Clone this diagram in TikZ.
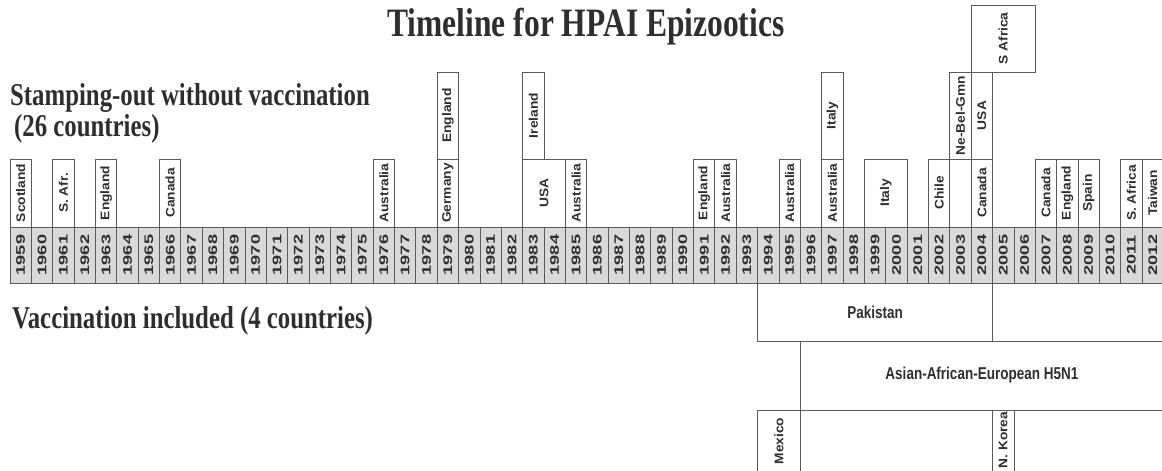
\documentclass[tikz,border=0pt]{standalone}
\usepackage{fontspec}
\setmainfont{Liberation Serif}
\setsansfont{Liberation Sans}
\definecolor{ink}{HTML}{2E2E2E}
\definecolor{rule}{HTML}{5A5A5A}
\definecolor{cellfill}{HTML}{D9D9D9}
\newcommand\cbox[6]{%
  \pgfmathsetmacro\bxa{10+21.36*(#2-1959)}%
  \pgfmathsetmacro\bxw{21.36*(#3-#2+1)}%
  \pgfmathsetmacro\bxh{#5-#4}%
  \node[box, minimum width=\bxw pt, minimum height=\bxh pt, anchor=north west] (#1) at (\bxa,#4) {};
  \node[vlabel] (#1t) at (#1.center) {#6};}
\begin{document}
\begin{tikzpicture}[x=1pt,y=-1pt,
  box/.style={draw=rule, line width=0.8pt, rectangle, inner sep=0pt, outer sep=0pt},
  yearcell/.style={box, fill=cellfill},
  vlabel/.style={font=\sffamily\bfseries\fontsize{12.5}{13}\selectfont, text=ink, yscale=1.1, rotate=90, inner sep=0pt},
  ylabel/.style={font=\sffamily\bfseries\fontsize{12.5}{13}\selectfont, text=ink, yscale=1.45, rotate=90, inner sep=0pt},
  hlabel/.style={font=\sffamily\bfseries\fontsize{13.5}{14}\selectfont, text=ink, yscale=1.27, inner sep=0pt},
  head/.style={font=\bfseries\fontsize{24.8}{26}\selectfont, text=ink, yscale=1.28, anchor=base west, inner sep=0pt},
  titlestyle/.style={font=\bfseries\fontsize{31.5}{33}\selectfont, text=ink, yscale=1.28, anchor=base, inner sep=0pt}]
\useasboundingbox (0,0) rectangle (1162,471);
\clip (0,0) rectangle (1162,471);

% headings
\node[titlestyle] (title) at (586,36) {Timeline for HPAI Epizootics};
\node[head] (stamp) at (10,105) {Stamping-out without vaccination};
\node[head] (stamp2) at (14,136) {(26 countries)};
\node[head] (vacc) at (12,328) {Vaccination included (4 countries)};

% year row
\foreach \i in {0,...,53} {
  \pgfmathtruncatemacro\yr{1959+\i}
  \node[yearcell, minimum width=21.36pt, minimum height=56pt, anchor=north west] (y\yr) at ({10+21.36*\i},227) {};
  \node[ylabel] (t\yr) at (y\yr.center) {\yr};
}

% tier 1 (stamping-out)
\cbox{a59}{1959}{1959}{159}{227}{Scotland}
\cbox{a61}{1961}{1961}{159}{227}{S. Afr.}
\cbox{a63}{1963}{1963}{159}{227}{England}
\cbox{a66}{1966}{1966}{159}{227}{Canada}
\cbox{a76}{1976}{1976}{159}{227}{Australia}
\cbox{a79}{1979}{1979}{159}{227}{Germany}
\cbox{a83}{1983}{1984}{159}{227}{USA}
\cbox{a85}{1985}{1985}{159}{227}{Australia}
\cbox{a91}{1991}{1991}{159}{227}{England}
\cbox{a92}{1992}{1992}{159}{227}{Australia}
\cbox{a95}{1995}{1995}{159}{227}{Australia}
\cbox{a97}{1997}{1997}{159}{227}{Australia}
\cbox{a99}{1999}{2000}{159}{227}{Italy}
\cbox{a02}{2002}{2002}{159}{227}{Chile}
\cbox{a03}{2003}{2003}{159}{227}{}
\cbox{a04}{2004}{2004}{159}{227}{Canada}
\cbox{a07}{2007}{2007}{159}{227}{Canada}
\cbox{a08}{2008}{2008}{159}{227}{England}
\cbox{a09}{2009}{2009}{159}{227}{Spain}
\cbox{a11}{2011}{2011}{159}{227}{S. Africa}
\cbox{a12}{2012}{2012}{159}{227}{Taiwan}
% tier 2
\cbox{b79}{1979}{1979}{72}{159}{England}
\cbox{b83}{1983}{1983}{72}{159}{Ireland}
\cbox{b97}{1997}{1997}{72}{159}{Italy}
\cbox{b03}{2003}{2003}{72}{159}{Ne-Bel-Gmn}
\cbox{b04}{2004}{2004}{72}{159}{USA}
% tier 3
\cbox{c04}{2004}{2006}{5}{72}{S Africa}

% vaccination included
\pgfmathsetmacro\xa{10+21.36*35}
\pgfmathsetmacro\xb{10+21.36*46}
\pgfmathsetmacro\xc{10+21.36*37}
\pgfmathsetmacro\xe{10+21.36*54}
\node[box, minimum width={\xb-\xa}, minimum height=58pt, anchor=north west] (pak) at (\xa,283) {};
\node[hlabel] (pakt) at (pak.center) {Pakistan};
\node[box, minimum width={\xe-\xb}, minimum height=58pt, anchor=north west] (pak2) at (\xb,283) {};
\node[box, minimum width={\xe-\xc}, minimum height=69pt, anchor=north west] (h5) at (\xc,341) {};
\node[hlabel] (h5t) at (h5.center) {Asian-African-European H5N1};
\node[box, minimum width={\xc-\xa}, minimum height=64pt, anchor=north west] (mex) at (\xa,410) {};
\node[vlabel] (mext) at ({(\xa+\xc)/2},441) {Mexico};
\node[box, minimum width=21.36pt, minimum height=64pt, anchor=north west] (nk) at (\xb,410) {};
\node[vlabel] (nkt) at ({\xb+10.68},440) {N. Korea};
\end{tikzpicture}
\end{document}
